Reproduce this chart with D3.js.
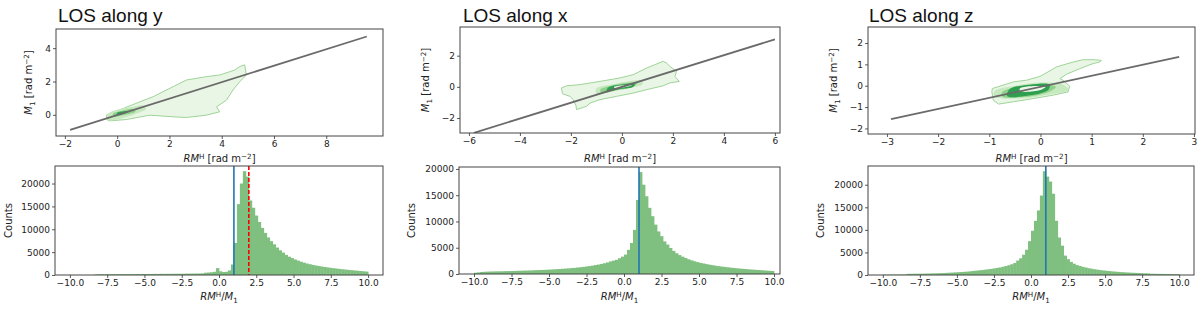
<!DOCTYPE html>
<html><head><meta charset="utf-8">
<script src="https://cdn.jsdelivr.net/npm/d3@7"></script>
<style>
html,body{margin:0;padding:0;background:#fff;}
svg{display:block;}
text{font-family:"DejaVu Sans",sans-serif;fill:#222;}
.title{font-family:"Liberation Sans",Arial,sans-serif;font-size:19px;fill:#111;}
</style></head>
<body>
<svg id="chart" width="1200" height="310"></svg>
<script>
// ---------- DATA ----------
const titles = ["LOS along y", "LOS along x", "LOS along z"];
const binStart = -10, binWidth = 0.2;

const countsY = [
 0,0,0,0,0,0,0,0,100,150,
 160,150,170,160,180,170,180,190,180,200,
 190,200,210,200,220,210,230,220,240,230,
 250,240,260,250,270,260,280,270,290,300,
 300,310,320,330,340,500,550,600,700,1500,
 800,650,700,1000,2300,7000,15500,20000,22700,21500,
 16300,14700,13000,11600,10300,9200,8200,7400,6700,6000,
 5400,4900,4400,4000,3700,3400,3150,2900,2700,2500,
 2350,2200,2080,1960,1850,1750,1650,1560,1480,1400,
 1320,1250,1180,1110,1050,990,930,870,810,750
];
const countsX = [
 250,300,380,420,450,470,480,500,510,520,
 540,550,560,580,600,620,640,650,670,690,
 720,740,760,790,820,850,880,910,950,990,
 1030,1070,1120,1170,1230,1290,1360,1430,1510,1600,
 1700,1800,1920,2050,2200,2400,2550,2700,3000,3300,
 3700,4600,5900,8400,14100,19400,17000,14800,12600,11000,
 9400,8100,7200,6200,5600,4950,4400,3950,3600,3300,
 3050,2800,2600,2420,2260,2120,2000,1880,1770,1670,
 1580,1500,1420,1350,1280,1210,1150,1090,1040,990,
 940,890,850,810,770,730,690,650,610,580
];
const countsZ = [
 60,60,70,70,80,80,90,90,250,260,
 270,280,290,300,310,330,350,370,390,410,
 440,470,500,540,580,620,660,700,750,810,
 900,960,1030,1100,1180,1260,1350,1450,1560,1680,
 1820,1980,2160,2380,2650,3200,3700,4500,5600,7500,
 9800,12000,14300,17600,23000,21800,20700,18000,12000,8300,
 6500,4300,3500,2900,2500,2200,2000,1800,1650,1500,
 1380,1270,1170,1080,1000,930,860,800,740,690,
 640,600,560,520,490,460,430,400,380,360,
 280,270,260,250,240,230,220,210,200,190
];

// reference lines in the histograms (RM^H/M1)
const blueLineX = [1.0, 1.0, 1.0];
const redLineX = [2.0, null, null];

// fitted lines in the scatter panels: [[x0,y0],[x1,y1]]
const fitY = [[-1.8, -0.9], [9.55, 4.7]];
const fitX = [[-5.8, -2.95], [6.0, 3.05]];
const fitZ = [[-2.92, -1.56], [2.71, 1.35]];

// density contour outlines (data coordinates), outer -> inner
const contoursY = [
 [[-0.28,-0.36],[0.36,-0.28],[1.25,-0.02],[2.14,-0.12],[2.65,-0.16],[3.41,-0.02],[3.92,0.18],[3.8,0.48],[4.18,0.88],[4.43,1.49],[4.69,1.99],[4.94,2.39],[4.88,3.0],[4.69,2.9],[4.5,2.69],[4.31,2.59],[3.92,2.39],[3.41,2.29],[2.65,2.09],[2.14,1.69],[1.38,1.09],[0.87,0.78],[0.23,0.38],[-0.15,0.18],[-0.41,-0.02],[-0.38,-0.3]],
 [[-0.35,-0.3],[0.2,-0.2],[0.7,0.05],[1.1,0.35],[1.0,0.55],[0.5,0.45],[0.0,0.3],[-0.35,0.05]],
 [[-0.15,-0.1],[0.3,0.0],[0.7,0.2],[0.6,0.35],[0.2,0.25],[-0.15,0.08]],
 [[0.0,0.0],[0.3,0.08],[0.45,0.2],[0.25,0.22],[0.0,0.12]]
];
const contoursX = [
 [[-2.37,-0.07],[-2.17,0.07],[-1.65,0.14],[-0.86,0.35],[-0.08,0.57],[0.44,0.78],[0.97,1.21],[1.62,1.64],[1.75,1.53],[1.88,1.32],[2.14,1.0],[2.08,0.67],[2.25,0.35],[1.88,0.25],[1.62,0.07],[0.97,-0.18],[0.44,-0.4],[-0.21,-0.61],[-0.86,-0.82],[-1.25,-1.04],[-1.39,-1.25],[-1.78,-1.46],[-1.8,-1.21],[-1.91,-0.82],[-2.04,-0.61],[-2.33,-0.44]],
 [[-1.0,-0.45],[-0.4,-0.3],[0.3,-0.05],[0.8,0.15],[0.8,0.4],[0.2,0.35],[-0.4,0.15],[-1.0,-0.1]],
 [[-0.8,-0.38],[-0.2,-0.22],[0.45,0.0],[0.6,0.25],[0.0,0.22],[-0.6,0.0],[-0.85,-0.18]],
 [[-0.6,-0.28],[-0.1,-0.15],[0.45,0.0],[0.5,0.2],[0.0,0.15],[-0.55,-0.05]],
 [[-0.3,-0.08],[0.1,-0.02],[0.4,0.08],[0.1,0.1],[-0.3,0.0]]
];
const contoursZ = [
 [[-0.95,-0.29],[-0.92,-0.68],[-0.82,-0.86],[-0.53,-0.75],[-0.14,-0.6],[0.25,-0.44],[0.54,-0.29],[0.57,-0.02],[0.44,0.26],[0.38,0.33],[0.51,0.54],[0.77,0.8],[1.03,1.04],[1.16,1.11],[1.19,1.19],[1.03,1.22],[0.83,1.22],[0.64,1.11],[0.31,0.88],[0.15,0.65],[-0.01,0.44],[-0.27,0.26],[-0.53,0.18],[-0.79,-0.02],[-0.94,-0.13]],
 [[-0.9,-0.5],[-0.4,-0.6],[0.2,-0.4],[0.55,-0.2],[0.45,0.05],[0.0,0.15],[-0.5,0.0],[-0.9,-0.25]],
 [[-0.75,-0.5],[-0.3,-0.52],[0.15,-0.3],[0.3,-0.05],[0.0,0.08],[-0.45,-0.05],[-0.75,-0.3]],
 [[-0.65,-0.48],[-0.2,-0.45],[0.15,-0.2],[0.18,0.05],[-0.2,0.05],[-0.6,-0.15]],
 [[-0.4,-0.25],[0.0,-0.2],[0.1,-0.05],[-0.2,-0.02],[-0.4,-0.12]]
];

// tick values
const topXTicks = [[-2,0,2,4,6,8],[-6,-4,-2,0,2,4,6],[-3,-2,-1,0,1,2,3]];
const topYTicks = [[0,2,4],[-2,0,2],[-2,-1,0,1,2]];
const histXTicks = [-10,-7.5,-5,-2.5,0,2.5,5,7.5,10];
const histYTicks = [0,5000,10000,15000,20000];

// ---------- LAYOUT ----------
const topDomX = [[-2.34,10.17],[-6.35,6.2],[-3.37,3.02]];
const topDomY = [[-1.27,5.15],[-2.96,3.84],[-2.26,2.75]];
const topBox = [{x0:56,x1:383,y0:29,y1:136},{x0:460,x1:780,y0:27,y1:133},{x0:868,x1:1195,y0:27,y1:134}];
const botBox = [{x0:55,x1:383,y0:166,y1:275},{x0:459,x1:780,y0:167,y1:274},{x0:868,x1:1194,y0:166,y1:275}];
const botDomX = [[-11,11],[-11,10.4],[-11,11]];
const titlePos = [[58,21.5],[463,21.5],[869,22]];
const m1LabelX = [32,429,837];
const countsLabelX = [12,415,824];

const contourFill = ["#e9f6e5","#c7e9c0","#8fd08a","#2e9e4f","#eef8ea"];
const contourStroke = ["#9ed497","none","none","none","none"];

const allCounts = [countsY, countsX, countsZ];
const allFits = [fitY, fitX, fitZ];
const allContours = [contoursY, contoursX, contoursZ];

const svg = d3.select("#chart");

function rmLabel(t) {
  t.append("tspan").attr("font-style","italic").text("RM");
  t.append("tspan").attr("dy",-3.5).attr("font-size","0.72em").text("H");
}

function styleAxis(g) {
  g.selectAll("path.domain").remove();
  g.selectAll(".tick line").attr("stroke","#333").attr("stroke-width",0.8);
  g.selectAll(".tick text").attr("font-size","9px").attr("fill","#222").attr("font-family","DejaVu Sans, sans-serif");
}

for (let p = 0; p < 3; p++) {
  // ---- title
  svg.append("text").attr("class","title")
    .attr("x", titlePos[p][0]).attr("y", titlePos[p][1]).text(titles[p]);

  // ---- top scatter / contour panel
  const tb = topBox[p];
  const xs = d3.scaleLinear().domain(topDomX[p]).range([tb.x0, tb.x1]);
  const ys = d3.scaleLinear().domain(topDomY[p]).range([tb.y1, tb.y0]);
  const clipId = "clipTop" + p;
  svg.append("clipPath").attr("id", clipId).append("rect")
    .attr("x", tb.x0).attr("y", tb.y0).attr("width", tb.x1 - tb.x0).attr("height", tb.y1 - tb.y0);
  const gTop = svg.append("g").attr("clip-path", `url(#${clipId})`);

  const cLine = d3.line().x(d => xs(d[0])).y(d => ys(d[1]));
  allContours[p].forEach((poly, k) => {
    cLine.curve(k === 0 ? d3.curveLinearClosed : d3.curveCatmullRomClosed.alpha(0.5));
    gTop.append("path").attr("d", cLine(poly))
      .attr("fill", contourFill[k])
      .attr("stroke", contourStroke[k])
      .attr("stroke-width", 1);
  });
  gTop.append("path")
    .attr("d", d3.line().x(d => xs(d[0])).y(d => ys(d[1]))(allFits[p]))
    .attr("stroke", "#6a6a6a").attr("stroke-width", 1.8).attr("fill", "none");

  svg.append("rect").attr("x", tb.x0).attr("y", tb.y0)
    .attr("width", tb.x1 - tb.x0).attr("height", tb.y1 - tb.y0)
    .attr("fill","none").attr("stroke","#444").attr("stroke-width",1);

  const axXt = svg.append("g").attr("transform", `translate(0,${tb.y1})`)
    .call(d3.axisBottom(xs).tickValues(topXTicks[p]).tickFormat(d3.format("d")).tickSize(3).tickPadding(2));
  styleAxis(axXt);
  const axYt = svg.append("g").attr("transform", `translate(${tb.x0},0)`)
    .call(d3.axisLeft(ys).tickValues(topYTicks[p]).tickFormat(d3.format("d")).tickSize(3).tickPadding(2));
  styleAxis(axYt);

  // x label of top panel
  const tx = svg.append("text").attr("x", (tb.x0 + tb.x1) / 2).attr("y", 162)
    .attr("text-anchor","middle").attr("font-size","10px");
  rmLabel(tx);
  tx.append("tspan").attr("dy",3.5).text(" [rad m");
  tx.append("tspan").attr("dy",-3.5).attr("font-size","0.72em").text("\u22122");
  tx.append("tspan").attr("dy",3.5).text("]");

  // y label of top panel
  const cy = (tb.y0 + tb.y1) / 2;
  const ty = svg.append("text")
    .attr("transform", `translate(${m1LabelX[p]},${cy}) rotate(-90)`)
    .attr("text-anchor","middle").attr("font-size","10px");
  ty.append("tspan").attr("font-style","italic").text("M");
  ty.append("tspan").attr("dy",2.5).attr("font-size","0.72em").text("1");
  ty.append("tspan").attr("dy",-2.5).text(" [rad m");
  ty.append("tspan").attr("dy",-3.5).attr("font-size","0.72em").text("\u22122");
  ty.append("tspan").attr("dy",3.5).text("]");

  // ---- bottom histogram
  const bb = botBox[p];
  const counts = allCounts[p];
  const hx = d3.scaleLinear().domain(botDomX[p]).range([bb.x0, bb.x1]);
  const hy = d3.scaleLinear().domain([0, d3.max(counts) * 1.05]).range([bb.y1, bb.y0]);

  svg.append("g").selectAll("rect").data(counts).join("rect")
    .attr("x", (d, i) => hx(binStart + i * binWidth))
    .attr("width", (d, i) => hx(binStart + (i + 1) * binWidth) - hx(binStart + i * binWidth) + 0.4)
    .attr("y", d => hy(d))
    .attr("height", d => hy(0) - hy(d))
    .attr("fill", "#7fbf7f");

  svg.append("line")
    .attr("x1", hx(blueLineX[p])).attr("x2", hx(blueLineX[p]))
    .attr("y1", bb.y0).attr("y2", bb.y1)
    .attr("stroke", "#1f77b4").attr("stroke-width", 1.6);
  if (redLineX[p] !== null) {
    svg.append("line")
      .attr("x1", hx(redLineX[p])).attr("x2", hx(redLineX[p]))
      .attr("y1", bb.y0).attr("y2", bb.y1)
      .attr("stroke", "#ff0000").attr("stroke-width", 1.6)
      .attr("stroke-dasharray", "4,2");
  }

  svg.append("rect").attr("x", bb.x0).attr("y", bb.y0)
    .attr("width", bb.x1 - bb.x0).attr("height", bb.y1 - bb.y0)
    .attr("fill","none").attr("stroke","#444").attr("stroke-width",1);

  const axXb = svg.append("g").attr("transform", `translate(0,${bb.y1})`)
    .call(d3.axisBottom(hx).tickValues(histXTicks).tickFormat(d3.format(".1f")).tickSize(3).tickPadding(2));
  styleAxis(axXb);
  const axYb = svg.append("g").attr("transform", `translate(${bb.x0},0)`)
    .call(d3.axisLeft(hy).tickValues(histYTicks).tickFormat(d3.format("d")).tickSize(3).tickPadding(2));
  styleAxis(axYb);

  const bx = svg.append("text").attr("x", (bb.x0 + bb.x1) / 2).attr("y", 300)
    .attr("text-anchor","middle").attr("font-size","10px");
  rmLabel(bx);
  bx.append("tspan").attr("dy",3.5).text("/");
  bx.append("tspan").attr("font-style","italic").text("M");
  bx.append("tspan").attr("dy",2.5).attr("font-size","0.72em").text("1");

  svg.append("text")
    .attr("transform", `translate(${countsLabelX[p]},${(bb.y0 + bb.y1) / 2}) rotate(-90)`)
    .attr("text-anchor","middle").attr("font-size","10px").text("Counts");
}
</script>
</body></html>
